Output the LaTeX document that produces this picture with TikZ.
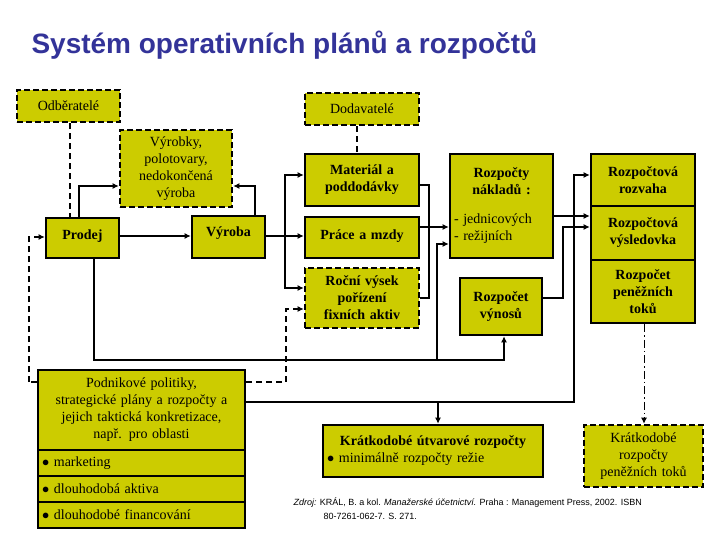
\documentclass[tikz,border=0pt]{standalone}
\usepackage{fontspec}
\setmainfont{Liberation Serif}
\newfontfamily\titlefont{Liberation Sans}
\usetikzlibrary{arrows.meta}
\definecolor{olv}{RGB}{204,204,0}
\definecolor{ttl}{RGB}{51,51,153}
\tikzset{
 bx/.style={draw=black,fill=olv,line width=2.6pt,inner sep=1pt,align=center,font=\fontsize{14}{17}\selectfont},
 dbx/.style={bx,dash pattern=on 6pt off 3pt},
 lbx/.style={bx,align=left},
 ln/.style={line width=2.2pt},
 ar/.style={ln,-{Latex[length=6pt,width=6pt]}},
 dar/.style={ar,dash pattern=on 6pt off 4pt},
 dln/.style={ln,dash pattern=on 6pt off 4pt},
}
\newcommand{\mybox}[7]{%
 \pgfmathsetmacro\cx{(#2+#4)/2}\pgfmathsetmacro\cy{(#3+#5)/2}%
 \pgfmathsetmacro\ww{#4-#2}\pgfmathsetmacro\hh{#5-#3}%
 \node[#6,minimum width=\ww pt,minimum height=\hh pt,text width=\ww pt-8pt] (#1) at (\cx,\cy) {#7};}
\newcommand{\lft}[1]{\makebox[\linewidth][l]{#1}}
\begin{document}
\begin{tikzpicture}[x=1pt,y=-1pt]
\useasboundingbox (0,0) rectangle (720,540);
\fill[white] (0,0) rectangle (720,540);
\node[anchor=west,font=\titlefont\bfseries\fontsize{28}{32}\selectfont,text=ttl] (title) at (28,45) {Systém operativních plánů a rozpočtů};
\mybox{odb}{17}{90}{120}{122}{dbx}{Odběratelé}
\mybox{dod}{305}{93}{419}{125}{dbx}{Dodavatelé}
\mybox{vyr}{120}{130}{232}{207}{dbx}{Výrobky,\\polotovary,\\nedokončená\\výroba}
\mybox{pro}{46}{218}{119}{258}{bx}{\raisebox{6pt}{\textbf{Prodej}}}
\mybox{vba}{192}{216}{265}{258}{bx}{\raisebox{10pt}{\textbf{Výroba}}}
\mybox{mat}{305}{154}{419}{206}{bx}{\textbf{Materiál a\\poddodávky}}
\mybox{pra}{305}{217}{419}{258}{bx}{\raisebox{6pt}{\textbf{Práce a mzdy}}}
\mybox{roc}{305}{268}{419}{328}{dbx}{\textbf{Roční výsek\\pořízení\\fixních aktiv}}
\mybox{nak}{450}{154}{553}{258}{bx}{\textbf{Rozpočty\\nákladů :}\\[12pt]\lft{- jednicových}\\\lft{- režijních}}
\mybox{vyn}{460}{278}{542}{335}{bx}{\textbf{Rozpočet\\výnosů}}
\mybox{rzv}{591}{154}{695}{206}{bx}{\textbf{Rozpočtová\\rozvaha}}
\mybox{vys}{591}{206}{695}{260}{bx}{\textbf{Rozpočtová\\výsledovka}}
\mybox{pen}{591}{260}{695}{323}{bx}{\textbf{Rozpočet\\peněžních\\toků}}
\mybox{pod}{38}{370}{245}{450}{bx}{Podnikové politiky,\\strategické plány a rozpočty a\\jejich taktická konkretizace,\\např. pro oblasti}
\mybox{b1}{38}{450}{245}{476}{lbx}{$\bullet$ marketing}
\mybox{b2}{38}{476}{245}{502}{lbx}{$\bullet$ dlouhodobá aktiva}
\mybox{b3}{38}{502}{245}{528}{lbx}{$\bullet$ dlouhodobé financování}
\mybox{kut}{323}{425}{543}{477}{bx}{\raisebox{6pt}{\parbox{\linewidth}{\centering\textbf{Krátkodobé útvarové rozpočty}\\\lft{$\bullet$ minimálně rozpočty režie}}}}
\mybox{kpt}{584}{425}{703}{487}{dbx}{Krátkodobé\\rozpočty\\peněžních toků}
\node[anchor=north west,align=left,font=\titlefont\fontsize{9}{14}\selectfont] (zdroj) at (290,494)
 {\textit{Zdroj:} KRÁL, B. a kol. \textit{Manažerské účetnictví.} Praha : Management Press, 2002. ISBN\\\hspace*{30pt}80-7261-062-7. S. 271.};
% connectors
\draw[dln] (odb.south -| 70,0) -- (pro.north -| 70,0);
\draw[dln] (dod.south -| 357,0) -- (mat.north -| 357,0);
\draw[ar] (pro.north -| 79,0) |- (vyr.west |- 0,186);
\draw[ar] (vba.north -| 255,0) |- (vyr.east |- 0,186);
\draw[ar] (pro.east |- 0,236) -- (vba.west |- 0,236);
\draw[ar] (vba.east |- 0,236) -- (pra.west |- 0,236);
\coordinate (j1) at (285,236);
\draw[ar] (j1) |- (mat.west |- 0,175);
\draw[ar] (j1) |- (roc.west |- 0,288);
\draw[ln] (mat.east |- 0,185) -| (429,298) -- (roc.east |- 0,298);
\draw[ar] (pra.east |- 0,227) -- (nak.west |- 0,227);
\draw[ar] (nak.east |- 0,216) -- (vys.west |- 0,216);
\draw[ar] (vyn.east |- 0,298) -| (563,227) -- (vys.west |- 0,227);
\draw[dar] (29,382) -- (29,237) -- (pro.west |- 0,237);
\draw[dln] (pod.west |- 0,382) -- (29,382);
\draw[dar] (pod.east |- 0,382) -| (286,309) -- (roc.west |- 0,309);
\coordinate (j2) at (437,360);
\draw[ar] (pro.south -| 94,0) |- (j2) -| (vyn.south -| 504,0);
\draw[ar] (j2) |- (nak.west |- 0,244);
\coordinate (j3) at (438,402);
\draw[ar] (pod.east |- 0,402) -| (574,175) -- (rzv.west |- 0,175);
\draw[ar] (j3) -- (kut.north -| 438,0);
\draw[line width=1pt,dash pattern=on 8pt off 3pt on 1.5pt off 3pt,-{Latex[length=6pt,width=6pt]}] (pen.south -| 644,0) -- (kpt.north -| 644,0);
\end{tikzpicture}
\end{document}
